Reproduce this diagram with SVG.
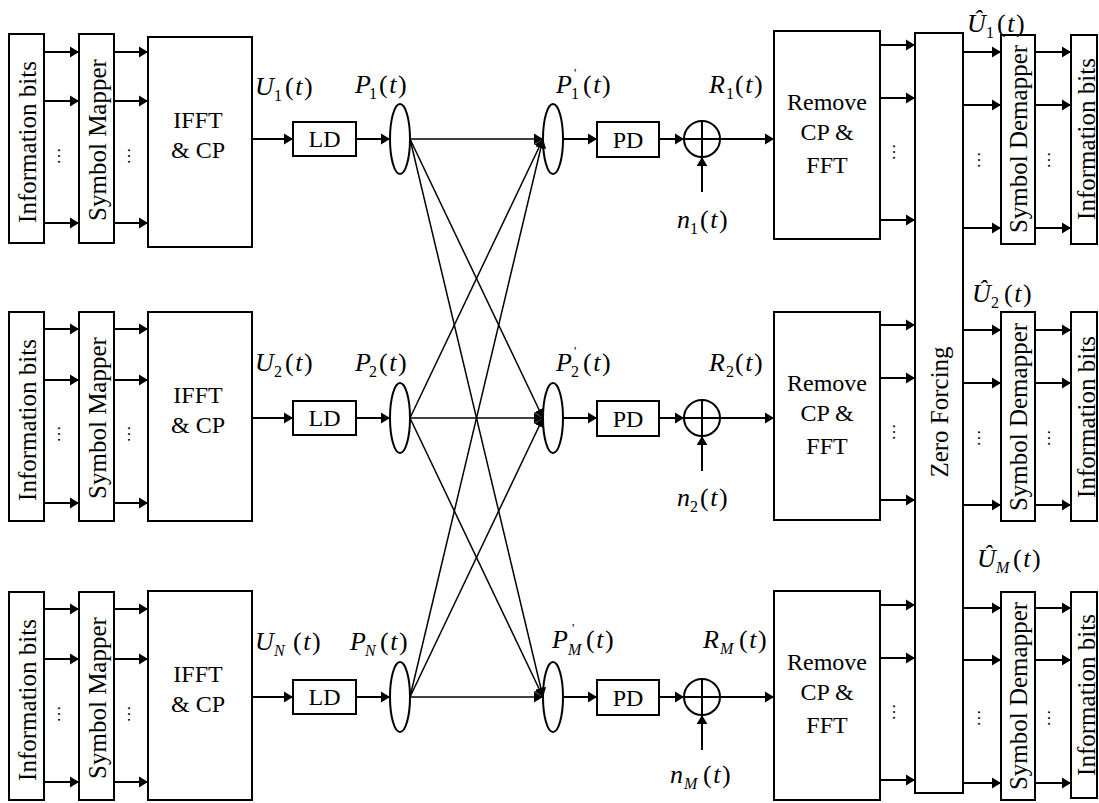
<svg xmlns="http://www.w3.org/2000/svg" width="1099" height="803" viewBox="0 0 1099 803">
<defs>
<style>
rect,ellipse,circle{fill:#fff;stroke:#000;stroke-width:2}
.ln{stroke:#000;stroke-width:2;fill:none}
.ar{stroke:#000;stroke-width:2;fill:none;marker-end:url(#ah)}
.xl{stroke:#000;stroke-width:1.5;fill:none;marker-end:url(#ah)}
text{font-family:"Liberation Serif","Times New Roman",serif;fill:#000}
.bt{font-size:24px;text-anchor:middle}
.rt{font-size:25px;text-anchor:middle;dominant-baseline:central}
.dt{font-size:17px;text-anchor:middle}
.m{font-size:26px;font-style:italic}
.u{font-style:normal}
.s{font-size:16px;font-style:normal}
.si{font-size:16px;font-style:italic}
.pr{font-size:13px;font-style:normal}
</style>
<marker id="ah" viewBox="0 0 10 12" refX="10" refY="6" markerWidth="9" markerHeight="12" markerUnits="userSpaceOnUse" orient="auto"><path d="M0,0 L10,6 L0,12 z" fill="#000"/></marker>
</defs>

<!-- Row 1 transmitter -->
<g id="tx-info-1"><rect x="9" y="34" width="35" height="209"/><text class="rt" transform="rotate(-90 27 142)" x="27" y="142">Information bits</text></g>
<g id="tx-mapper-1"><rect x="79" y="34" width="35" height="209"/><text class="rt" transform="rotate(-90 97 140)" x="97" y="140">Symbol Mapper</text></g>
<g id="tx-ifft-1"><rect x="148" y="37" width="104" height="210"/><text class="bt" x="198" y="128">IFFT</text><text class="bt" x="198" y="158">&amp; CP</text></g>
<g id="tx-ld-1"><rect x="293" y="122" width="63" height="34"/><text class="bt" x="324.5" y="147">LD</text></g>
<g id="tx-p-1"><ellipse cx="400" cy="139" rx="10" ry="35"/></g>
<!-- Row 2 transmitter -->
<g id="tx-info-2"><rect x="9" y="312" width="35" height="209"/><text class="rt" transform="rotate(-90 27 420)" x="27" y="420">Information bits</text></g>
<g id="tx-mapper-2"><rect x="79" y="312" width="35" height="209"/><text class="rt" transform="rotate(-90 97 418)" x="97" y="418">Symbol Mapper</text></g>
<g id="tx-ifft-2"><rect x="148" y="312" width="104" height="209"/><text class="bt" x="198" y="403">IFFT</text><text class="bt" x="198" y="433">&amp; CP</text></g>
<g id="tx-ld-2"><rect x="293" y="401" width="63" height="34"/><text class="bt" x="324.5" y="426">LD</text></g>
<g id="tx-p-2"><ellipse cx="400" cy="418" rx="10" ry="35"/></g>
<!-- Row 3 transmitter -->
<g id="tx-info-3"><rect x="9" y="592" width="35" height="208"/><text class="rt" transform="rotate(-90 27 700)" x="27" y="700">Information bits</text></g>
<g id="tx-mapper-3"><rect x="79" y="592" width="35" height="208"/><text class="rt" transform="rotate(-90 97 698)" x="97" y="698">Symbol Mapper</text></g>
<g id="tx-ifft-3"><rect x="148" y="591" width="104" height="209"/><text class="bt" x="198" y="682">IFFT</text><text class="bt" x="198" y="712">&amp; CP</text></g>
<g id="tx-ld-3"><rect x="293" y="680" width="63" height="34"/><text class="bt" x="324.5" y="705">LD</text></g>
<g id="tx-p-3"><ellipse cx="400" cy="697" rx="10" ry="35"/></g>

<!-- Receivers -->
<g id="rx-p-1"><ellipse cx="553" cy="139" rx="10" ry="35"/></g>
<g id="rx-pd-1"><rect x="597" y="122" width="62" height="35"/><text class="bt" x="628" y="148">PD</text></g>
<g id="rx-sum-1"><circle cx="702" cy="139" r="18"/><path class="ln" d="M684,139 H720 M702,121 V157"/></g>
<g id="rx-p-2"><ellipse cx="553" cy="418" rx="10" ry="35"/></g>
<g id="rx-pd-2"><rect x="597" y="401" width="62" height="35"/><text class="bt" x="628" y="427">PD</text></g>
<g id="rx-sum-2"><circle cx="702" cy="418" r="18"/><path class="ln" d="M684,418 H720 M702,400 V436"/></g>
<g id="rx-p-3"><ellipse cx="553" cy="697" rx="10" ry="35"/></g>
<g id="rx-pd-3"><rect x="597" y="680" width="62" height="35"/><text class="bt" x="628" y="706">PD</text></g>
<g id="rx-sum-3"><circle cx="702" cy="697" r="18"/><path class="ln" d="M684,697 H720 M702,679 V715"/></g>

<g id="rx-remove-1"><rect x="774" y="31" width="106" height="208"/><text class="bt" x="827" y="110">Remove</text><text class="bt" x="827" y="140">CP &amp;</text><text class="bt" x="827" y="173">FFT</text></g>
<g id="rx-remove-2"><rect x="774" y="312" width="106" height="208"/><text class="bt" x="827" y="391">Remove</text><text class="bt" x="827" y="421">CP &amp;</text><text class="bt" x="827" y="454">FFT</text></g>
<g id="rx-remove-3"><rect x="774" y="591" width="106" height="209"/><text class="bt" x="827" y="670">Remove</text><text class="bt" x="827" y="700">CP &amp;</text><text class="bt" x="827" y="733">FFT</text></g>

<g id="zero-forcing"><rect x="915" y="33" width="48" height="760"/><text class="rt" transform="rotate(-90 939 412)" x="939" y="412">Zero Forcing</text></g>

<g id="rx-demapper-1"><rect x="1001" y="35" width="34" height="209"/><text class="rt" transform="rotate(-90 1018 139)" x="1018" y="139">Symbol Demapper</text></g>
<g id="rx-info-1"><rect x="1071" y="35" width="26" height="209"/><text class="rt" transform="rotate(-90 1086 139)" x="1086" y="139">Information bits</text></g>
<g id="rx-demapper-2"><rect x="1001" y="312" width="34" height="209"/><text class="rt" transform="rotate(-90 1018 417)" x="1018" y="417">Symbol Demapper</text></g>
<g id="rx-info-2"><rect x="1071" y="312" width="26" height="209"/><text class="rt" transform="rotate(-90 1086 417)" x="1086" y="417">Information bits</text></g>
<g id="rx-demapper-3"><rect x="1001" y="592" width="34" height="208"/><text class="rt" transform="rotate(-90 1018 696)" x="1018" y="696">Symbol Demapper</text></g>
<g id="rx-info-3"><rect x="1071" y="592" width="26" height="206"/><text class="rt" transform="rotate(-90 1086 695)" x="1086" y="695">Information bits</text></g>

<!-- vertical ellipses -->
<g id="dots">
<text class="dt" transform="rotate(90 62 156)" x="62" y="160">…</text>
<text class="dt" transform="rotate(90 132 156)" x="132" y="160">…</text>
<text class="dt" transform="rotate(90 62 434)" x="62" y="438">…</text>
<text class="dt" transform="rotate(90 132 434)" x="132" y="438">…</text>
<text class="dt" transform="rotate(90 62 714)" x="62" y="718">…</text>
<text class="dt" transform="rotate(90 132 714)" x="132" y="718">…</text>
<text class="dt" transform="rotate(90 897 152)" x="897" y="156">…</text>
<text class="dt" transform="rotate(90 897 432)" x="897" y="436">…</text>
<text class="dt" transform="rotate(90 897 712)" x="897" y="716">…</text>
<text class="dt" transform="rotate(90 982 160)" x="982" y="164">…</text>
<text class="dt" transform="rotate(90 982 438)" x="982" y="442">…</text>
<text class="dt" transform="rotate(90 982 718)" x="982" y="722">…</text>
<text class="dt" transform="rotate(90 1052 160)" x="1052" y="164">…</text>
<text class="dt" transform="rotate(90 1052 438)" x="1052" y="442">…</text>
<text class="dt" transform="rotate(90 1052 718)" x="1052" y="722">…</text>
</g>

<g id="connectors">
<path class="ar" d="M44,52 H79"/><path class="ar" d="M44,101 H79"/><path class="ar" d="M44,223 H79"/>
<path class="ar" d="M114,52 H148"/><path class="ar" d="M114,101 H148"/><path class="ar" d="M114,223 H148"/>
<path class="ar" d="M252,139 H293"/><path class="ar" d="M356,139 H390"/>
<path class="ar" d="M44,329 H79"/><path class="ar" d="M44,380 H79"/><path class="ar" d="M44,503 H79"/>
<path class="ar" d="M114,329 H148"/><path class="ar" d="M114,380 H148"/><path class="ar" d="M114,503 H148"/>
<path class="ar" d="M252,418 H293"/><path class="ar" d="M356,418 H390"/>
<path class="ar" d="M44,609 H79"/><path class="ar" d="M44,659 H79"/><path class="ar" d="M44,782 H79"/>
<path class="ar" d="M114,609 H148"/><path class="ar" d="M114,659 H148"/><path class="ar" d="M114,782 H148"/>
<path class="ar" d="M252,697 H293"/><path class="ar" d="M356,697 H390"/>
<path class="xl" d="M410,139 L543,139"/><path class="xl" d="M410,139 L543,418"/><path class="xl" d="M410,139 L543,697"/>
<path class="xl" d="M410,418 L543,139"/><path class="xl" d="M410,418 L543,418"/><path class="xl" d="M410,418 L543,697"/>
<path class="xl" d="M410,697 L543,139"/><path class="xl" d="M410,697 L543,418"/><path class="xl" d="M410,697 L543,697"/>
<path class="ar" d="M563,139 H597"/><path class="ar" d="M659,139 H684"/><path class="ar" d="M702,192 V157"/><path class="ar" d="M720,139 H774"/>
<path class="ar" d="M563,418 H597"/><path class="ar" d="M659,418 H684"/><path class="ar" d="M702,471 V436"/><path class="ar" d="M720,418 H774"/>
<path class="ar" d="M563,697 H597"/><path class="ar" d="M659,697 H684"/><path class="ar" d="M702,750 V715"/><path class="ar" d="M720,697 H774"/>
<path class="ar" d="M880,45 H915"/><path class="ar" d="M880,98 H915"/><path class="ar" d="M880,220 H915"/>
<path class="ar" d="M880,325 H915"/><path class="ar" d="M880,378 H915"/><path class="ar" d="M880,500 H915"/>
<path class="ar" d="M880,605 H915"/><path class="ar" d="M880,658 H915"/><path class="ar" d="M880,780 H915"/>
<path class="ar" d="M963,52 H1001"/><path class="ar" d="M963,105 H1001"/><path class="ar" d="M963,228 H1001"/>
<path class="ar" d="M1035,52 H1071"/><path class="ar" d="M1035,105 H1071"/><path class="ar" d="M1035,228 H1071"/>
<path class="ar" d="M963,330 H1001"/><path class="ar" d="M963,383 H1001"/><path class="ar" d="M963,505 H1001"/>
<path class="ar" d="M1035,330 H1071"/><path class="ar" d="M1035,383 H1071"/><path class="ar" d="M1035,505 H1071"/>
<path class="ar" d="M963,608 H1001"/><path class="ar" d="M963,660 H1001"/><path class="ar" d="M963,783 H1001"/>
<path class="ar" d="M1035,608 H1071"/><path class="ar" d="M1035,660 H1071"/><path class="ar" d="M1035,783 H1071"/>
</g>

<g id="labels">
<text class="m" x="255" y="95">U<tspan class="s" x="274" y="101">1</tspan><tspan x="285" y="95" letter-spacing="1.5"><tspan class="u">(</tspan>t<tspan class="u">)</tspan></tspan></text>
<text class="m" x="255" y="371">U<tspan class="s" x="274" y="377">2</tspan><tspan x="285" y="371" letter-spacing="1.5"><tspan class="u">(</tspan>t<tspan class="u">)</tspan></tspan></text>
<text class="m" x="255" y="650">U<tspan class="si" x="274" y="656">N</tspan><tspan x="293" y="650" letter-spacing="1.5"><tspan class="u">(</tspan>t<tspan class="u">)</tspan></tspan></text>

<text class="m" x="355" y="93">P<tspan class="s" x="369" y="99">1</tspan><tspan x="379" y="93" letter-spacing="1.5"><tspan class="u">(</tspan>t<tspan class="u">)</tspan></tspan></text>
<text class="m" x="355" y="371">P<tspan class="s" x="369" y="377">2</tspan><tspan x="379" y="371" letter-spacing="1.5"><tspan class="u">(</tspan>t<tspan class="u">)</tspan></tspan></text>
<text class="m" x="350" y="650">P<tspan class="si" x="365" y="656">N</tspan><tspan x="380" y="650" letter-spacing="1.5"><tspan class="u">(</tspan>t<tspan class="u">)</tspan></tspan></text>

<text class="m" x="556" y="93">P<tspan class="s" x="571" y="99">1</tspan><tspan class="pr" x="574" y="77">'</tspan><tspan x="583" y="93" letter-spacing="1.5"><tspan class="u">(</tspan>t<tspan class="u">)</tspan></tspan></text>
<text class="m" x="556" y="371">P<tspan class="s" x="571" y="377">2</tspan><tspan class="pr" x="574" y="355">'</tspan><tspan x="583" y="371" letter-spacing="1.5"><tspan class="u">(</tspan>t<tspan class="u">)</tspan></tspan></text>
<text class="m" x="552" y="648">P<tspan class="si" x="568" y="655">M</tspan><tspan class="pr" x="572" y="632">'</tspan><tspan x="586" y="648" letter-spacing="1.5"><tspan class="u">(</tspan>t<tspan class="u">)</tspan></tspan></text>

<text class="m" x="709" y="93">R<tspan class="s" x="726" y="99">1</tspan><tspan x="735" y="93" letter-spacing="1.5"><tspan class="u">(</tspan>t<tspan class="u">)</tspan></tspan></text>
<text class="m" x="709" y="371">R<tspan class="s" x="726" y="377">2</tspan><tspan x="735" y="371" letter-spacing="1.5"><tspan class="u">(</tspan>t<tspan class="u">)</tspan></tspan></text>
<text class="m" x="703" y="648">R<tspan class="si" x="720" y="654">M</tspan><tspan x="739" y="648" letter-spacing="1.5"><tspan class="u">(</tspan>t<tspan class="u">)</tspan></tspan></text>

<text class="m" x="677" y="228">n<tspan class="s" x="690" y="234">1</tspan><tspan x="700" y="228" letter-spacing="1.5"><tspan class="u">(</tspan>t<tspan class="u">)</tspan></tspan></text>
<text class="m" x="677" y="506">n<tspan class="s" x="690" y="512">2</tspan><tspan x="700" y="506" letter-spacing="1.5"><tspan class="u">(</tspan>t<tspan class="u">)</tspan></tspan></text>
<text class="m" x="670" y="783">n<tspan class="si" x="684" y="789">M</tspan><tspan x="703" y="783" letter-spacing="1.5"><tspan class="u">(</tspan>t<tspan class="u">)</tspan></tspan></text>

<text class="m" x="967" y="32">Û<tspan class="s" x="986" y="38">1</tspan><tspan x="997" y="32" letter-spacing="1.5"><tspan class="u">(</tspan>t<tspan class="u">)</tspan></tspan></text>
<text class="m" x="972" y="302">Û<tspan class="s" x="991" y="308">2</tspan><tspan x="1004" y="302" letter-spacing="1.5"><tspan class="u">(</tspan>t<tspan class="u">)</tspan></tspan></text>
<text class="m" x="977" y="567">Û<tspan class="si" x="996" y="573">M</tspan><tspan x="1013" y="567" letter-spacing="1.5"><tspan class="u">(</tspan>t<tspan class="u">)</tspan></tspan></text>
</g>
</svg>
